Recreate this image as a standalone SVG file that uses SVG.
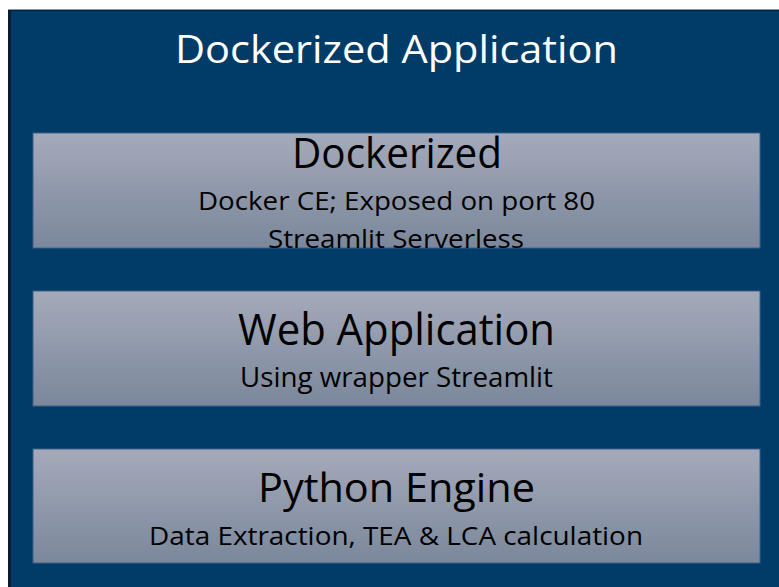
<svg xmlns="http://www.w3.org/2000/svg" width="779" height="587" viewBox="0 0 779 587">
<defs>
<linearGradient id="boxGrad" x1="0" y1="0" x2="0" y2="1">
<stop offset="0" stop-color="#a4aaba"/>
<stop offset="1" stop-color="#7b879b"/>
</linearGradient>
<style>
.outer{fill:#013b67;}
.box{fill:url(#boxGrad);stroke:#3e6188;stroke-width:1;}
text{font-family:"Open Sans","Liberation Sans",sans-serif;text-anchor:middle;}
.title{fill:#ffffff;font-size:39px;}
.head{fill:#000000;font-size:42px;}
.sub{fill:#000000;font-size:25px;}
</style>
</defs>
<rect x="0" y="0" width="779" height="587" fill="#ffffff"/>
<g id="container">
<rect x="8" y="9" width="780" height="590" fill="#0a1e33"/>
<rect x="8" y="9" width="780" height="1" fill="#8a9aa8"/>
<rect class="outer" x="11" y="11" width="780" height="590"/>
<text class="title" x="396.5" y="63" textLength="443" lengthAdjust="spacingAndGlyphs">Dockerized Application</text>
</g>
<g id="dockerized">
<rect class="box" x="33" y="133" width="727" height="115"/>
<text class="head" x="397" y="168" textLength="210" lengthAdjust="spacingAndGlyphs">Dockerized</text>
<text class="sub" x="396.5" y="210" textLength="397" lengthAdjust="spacingAndGlyphs">Docker CE; Exposed on port 80</text>
<text class="sub" x="396" y="248" textLength="256" lengthAdjust="spacingAndGlyphs">Streamlit Serverless</text>
</g>
<g id="web-application">
<rect class="box" x="33" y="291" width="727" height="115"/>
<text class="head" x="396.5" y="345" textLength="317" lengthAdjust="spacingAndGlyphs" style="font-size:44px">Web Application</text>
<text class="sub" x="396.5" y="387" textLength="313" lengthAdjust="spacingAndGlyphs" style="font-size:28px">Using wrapper Streamlit</text>
</g>
<g id="python-engine">
<rect class="box" x="33" y="449" width="727" height="114"/>
<text class="head" x="396.5" y="502" textLength="277" lengthAdjust="spacingAndGlyphs" style="font-size:41px">Python Engine</text>
<text class="sub" x="396" y="545" textLength="494" lengthAdjust="spacingAndGlyphs">Data Extraction, TEA &amp; LCA calculation</text>
</g>
<g id="connectors"></g>
</svg>
